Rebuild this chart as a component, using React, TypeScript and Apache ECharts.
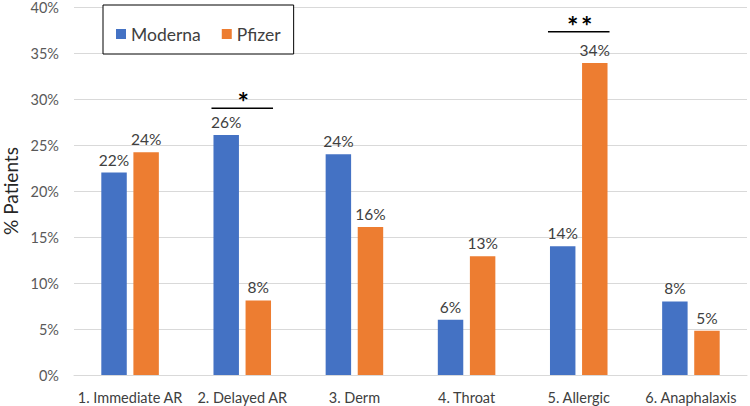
import React, { useEffect, useRef } from "react";
import * as echarts from "echarts";

const categories = ["1. Immediate AR", "2. Delayed AR", "3. Derm", "4. Throat", "5. Allergic", "6. Anaphalaxis"];
const modernaValues = [22.0, 26.1, 24.0, 6.0, 14.0, 8.0];
const pfizerValues = [24.2, 8.1, 16.1, 12.9, 33.9, 4.8];
const seriesNames = ["Moderna", "Pfizer"];
const yTicks = { min: 0, max: 40, interval: 5 };
// significance annotations: category index, line level (%), marker text
const sigCategoryIndex = [1, 4];
const sigLevels = [29.0, 37.3];
const sigMarks = ["*", "**"];

const FONT = "Lato, 'Noto Sans', sans-serif";

export default function App() {
  const ref = useRef<HTMLDivElement>(null);
  useEffect(() => {
    document.body.style.margin = "0";
    if (!ref.current) return;
    const chart = echarts.init(ref.current, null, { renderer: "svg" });
    const barWidthFrac = 0.227;
    const gapFrac = 0.26;
    const label = {
      show: true,
      position: "top",
      distance: 5,
      color: "#404040",
      fontSize: 15.5,
      fontFamily: FONT,
      formatter: (p: any) => Math.round(p.value) + "%",
    };
    chart.setOption({
      animation: false,
      textStyle: { fontFamily: FONT },
      grid: { left: 74, right: 3, top: 7, bottom: 31, containLabel: false, outerBoundsMode: "none" },
      legend: {
        data: seriesNames,
        left: 103,
        top: 5,
        orient: "horizontal",
        backgroundColor: "#ffffff",
        borderColor: "#000000",
        borderWidth: 1,
        padding: [20, 13, 11, 13],
        itemWidth: 10,
        itemHeight: 10,
        itemGap: 21,
        icon: "rect",
        textStyle: { fontSize: 17.5, color: "#404040", fontFamily: FONT },
      },
      xAxis: {
        type: "category",
        data: categories,
        axisLine: { lineStyle: { color: "#d9d9d9" } },
        axisTick: { show: false },
        axisLabel: { color: "#404040", fontSize: 14.5, margin: 15, interval: 0, fontFamily: FONT },
      },
      yAxis: {
        type: "value",
        min: yTicks.min,
        max: yTicks.max,
        interval: yTicks.interval,
        name: "% Patients",
        nameLocation: "middle",
        nameGap: 53,
        nameTextStyle: { fontSize: 19, color: "#262626", fontFamily: FONT },
        axisLabel: { formatter: "{value}%", color: "#595959", fontSize: 14.5, margin: 15, fontFamily: FONT },
        splitLine: { lineStyle: { color: "#d9d9d9" } },
        axisLine: { show: false },
        axisTick: { show: false },
      },
      series: [
        {
          name: seriesNames[0],
          type: "bar",
          data: modernaValues,
          barWidth: barWidthFrac * 100 + "%",
          barGap: gapFrac * 100 + "%",
          itemStyle: { color: "#4472c4" },
          label,
        },
        {
          name: seriesNames[1],
          type: "bar",
          data: pfizerValues,
          barWidth: barWidthFrac * 100 + "%",
          barGap: gapFrac * 100 + "%",
          itemStyle: { color: "#ed7d31" },
          label,
        },
        {
          type: "custom",
          name: "sig",
          data: sigCategoryIndex.map((c, i) => [c, sigLevels[i]]),
          z: 10,
          renderItem: (params: any, api: any) => {
            const c = api.coord([api.value(0), api.value(1)]);
            const band = api.size([1, 0])[0];
            const half = band * (barWidthFrac * 2 + barWidthFrac * gapFrac) / 2 + 2;
            const stars = sigMarks[params.dataIndex].split("");
            const spacing = 14;
            const children: any[] = [
              {
                type: "line",
                shape: { x1: c[0] - half, y1: c[1], x2: c[0] + half, y2: c[1] },
                style: { stroke: "#000000", lineWidth: 1.5 },
              },
            ];
            stars.forEach((s, k) => {
              children.push({
                type: "text",
                style: {
                  text: s,
                  x: c[0] + (k - (stars.length - 1) / 2) * spacing + 1,
                  y: c[1] + 7,
                  fill: "#000000",
                  font: "bold 27px " + FONT,
                  textAlign: "center",
                  textVerticalAlign: "bottom",
                },
              });
            });
            return { type: "group", children };
          },
        },
      ],
    });
    return () => chart.dispose();
  }, []);
  return <div ref={ref} style={{ width: 750, height: 406 }} />;
}
